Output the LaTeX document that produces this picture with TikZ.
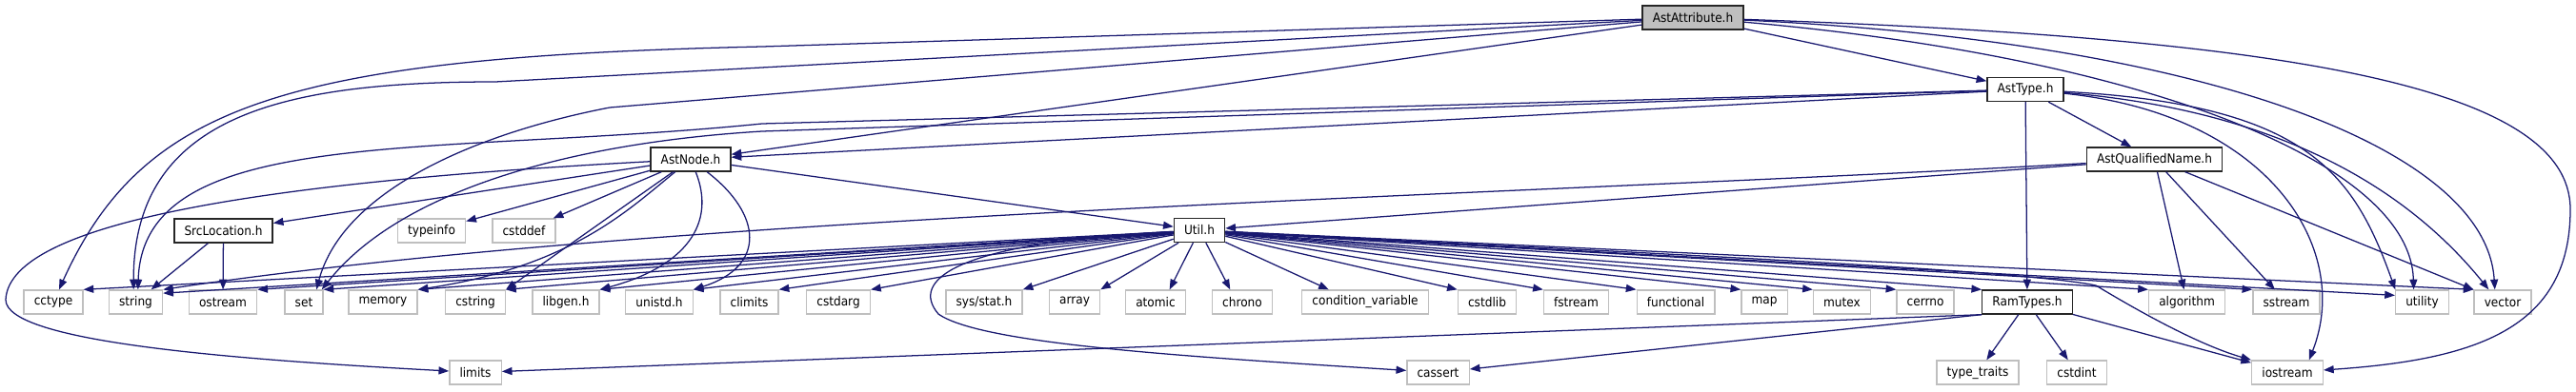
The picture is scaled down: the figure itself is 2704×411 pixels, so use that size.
\documentclass[tikz,border=0pt]{standalone}
\usepackage{fontspec}
\setmainfont{DejaVu Sans}[FakeStretch=0.91]
\usetikzlibrary{arrows.meta}
\definecolor{dxedge}{RGB}{25,25,112}
\definecolor{dxgrey}{RGB}{191,191,191}
\tikzset{
    dxbox/.style={rectangle,minimum height=18.75pt,inner xsep=8pt,inner ysep=0pt,font=\fontsize{10}{12}\selectfont,line width=1pt},
    hdr/.style={dxbox,draw=dxgrey,fill=white},
    loc/.style={dxbox,draw=black!85,fill=white},
    root/.style={dxbox,draw=black!85,fill=dxgrey},
    dep/.style={draw=dxedge,line width=0.95pt,-{Triangle[length=8pt,width=6pt]}}
}
\begin{document}
\begin{tikzpicture}[x=0.75pt,y=-0.75pt]
    \useasboundingbox(0,0)rectangle(2704,411);
    \node[root] (attr) at(1777,18.5){AstAttribute.h};
    \node[loc] (asttype) at(2126,94){AstType.h};
    \node[loc] (astnode) at(725,167.5){AstNode.h};
    \node[loc] (qname) at(2261.5,167.5){AstQualifiedName.h};
    \node[loc] (srcloc) at(234.5,242.5){SrcLocation.h};
    \node[loc] (util) at(1259,242){Util.h};
    \node[hdr] (typeinfo) at(453,242.5){typeinfo};
    \node[hdr] (cstddef) at(550,242.5){cstddef};
    \node[hdr] (cctype) at(56,317.5){cctype};
    \node[hdr] (string) at(142.5,317.5){string};
    \node[hdr] (ostream) at(234,317.5){ostream};
    \node[hdr] (set) at(319,317.5){set};
    \node[hdr] (memory) at(402,317.5){memory};
    \node[hdr] (cstring) at(499,317.5){cstring};
    \node[hdr] (libgen) at(594,317.5){libgen.h};
    \node[hdr] (unistd) at(692,317.5){unistd.h};
    \node[hdr] (climits) at(786.5,317.5){climits};
    \node[hdr] (cstdarg) at(880,317.5){cstdarg};
    \node[hdr] (sysstat) at(1033,317.5){sys/stat.h};
    \node[hdr] (array) at(1128,317.5){array};
    \node[hdr] (atomic) at(1213,317.5){atomic};
    \node[hdr] (chrono) at(1304,317.5){chrono};
    \node[hdr] (condvar) at(1433,317.5){condition\_variable};
    \node[hdr] (cstdlib) at(1561,317.5){cstdlib};
    \node[hdr] (fstream) at(1654.5,317.5){fstream};
    \node[hdr] (functional) at(1759,317.5){functional};
    \node[hdr] (map) at(1852,317.5){map};
    \node[hdr] (mutex) at(1933.5,317.5){mutex};
    \node[hdr] (cerrno) at(2021,317.5){cerrno};
    \node[loc] (ramtypes) at(2128,317.5){RamTypes.h};
    \node[hdr] (algorithm) at(2295.5,317.5){algorithm};
    \node[hdr] (sstream) at(2400,317.5){sstream};
    \node[hdr] (utility) at(2542.5,317.5){utility};
    \node[hdr] (vector) at(2627,317.5){vector};
    \node[hdr] (limits) at(499,391.5){limits};
    \node[hdr] (cassert) at(1509.5,391.5){cassert};
    \node[hdr] (typetraits) at(2076,391.5){type\_traits};
    \node[hdr] (cstdint) at(2180,391.5){cstdint};
    \node[hdr] (iostream) at(2401,391.5){iostream};
    \draw[dep] (attr) -- (astnode.7);
    \draw[dep] (attr) -- (asttype);
    \draw[dep] (attr) -- (800,49) .. controls (300,60) and (150,110) .. (cctype);
    \draw[dep] (attr) -- (520,86) .. controls (300,86) and (140,120) .. (string.100);
    \draw[dep] (attr) -- (640,113) .. controls (500,140) and (360,200) .. (set.45);
    \draw[dep] (attr) .. controls (2250,60) and (2530,170) .. (utility.124);
    \draw[dep] (attr) .. controls (2330,45) and (2610,160) .. (vector.122);
    \draw[dep] (attr) .. controls (2400,40) and (2698,90) .. (2698,220) .. controls (2698,345) and (2600,378) .. (iostream);
    \draw[dep] (asttype) -- (astnode.3);
    \draw[dep] (asttype) -- (800,130) .. controls (450,165) and (150,130) .. (string.80);
    \draw[dep] (asttype) -- (800,138) .. controls (600,150) and (420,200) .. (set.35);
    \draw[dep] (asttype) -- (qname);
    \draw[dep] (asttype) -- (ramtypes);
    \draw[dep] (asttype) .. controls (2380,120) and (2470,260) .. (iostream.30);
    \draw[dep] (asttype) .. controls (2420,110) and (2470,180) .. (utility.155);
    \draw[dep] (asttype) .. controls (2380,115) and (2520,190) .. (vector.138);
    \draw[dep] (qname) -- (util);
    \draw[dep] (qname) .. controls (1600,205) and (700,225) .. (string.north east);
    \draw[dep] (qname) -- (algorithm);
    \draw[dep] (qname) -- (sstream);
    \draw[dep] (qname) -- (vector.north west);
    \draw[dep] (astnode) -- (srcloc);
    \draw[dep] (astnode) -- (typeinfo);
    \draw[dep] (astnode) -- (cstddef);
    \draw[dep] (astnode) -- (util);
    \draw[dep] (astnode) .. controls (300,190) and (10,230) .. (6,315) .. controls (6,360) and (250,378) .. (limits);
    \draw[dep] (astnode) .. controls (660,220) and (600,280) .. (memory.north east);
    \draw[dep] (astnode) -- (cstring.north east);
    \draw[dep] (astnode) .. controls (752,235) and (720,280) .. (libgen.north east);
    \draw[dep] (astnode) .. controls (800,225) and (805,280) .. (unistd.north east);
    \draw[dep] (srcloc) -- (string);
    \draw[dep] (srcloc) -- (ostream);
    \draw[dep] (util) -- (cctype.north east);
    \draw[dep] (util) -- (string.18);
    \draw[dep] (util) -- (ostream.north east);
    \draw[dep] (util) -- (set.north east);
    \draw[dep] (util) -- (memory.north east);
    \draw[dep] (util) -- (cstring.north east);
    \draw[dep] (util) -- (libgen.north east);
    \draw[dep] (util) -- (unistd.north east);
    \draw[dep] (util) -- (climits.north east);
    \draw[dep] (util) -- (cstdarg.north east);
    \draw[dep] (util) .. controls (1000,255) and (955,295) .. (985,330) .. controls (1030,362) and (1250,375) .. (cassert);
    \draw[dep] (util) -- (sysstat.north east);
    \draw[dep] (util) -- (array.north east);
    \draw[dep] (util) -- (atomic.42);
    \draw[dep] (util) -- (chrono.134);
    \draw[dep] (util) -- (condvar.161);
    \draw[dep] (util) -- (cstdlib.north west);
    \draw[dep] (util) -- (fstream.north west);
    \draw[dep] (util) -- (functional.north west);
    \draw[dep] (util) -- (map.north west);
    \draw[dep] (util) -- (mutex.north west);
    \draw[dep] (util) -- (cerrno.north west);
    \draw[dep] (util) -- (ramtypes.north west);
    \draw[dep] (util) -- (algorithm.north west);
    \draw[dep] (util) -- (sstream.north west);
    \draw[dep] (util) .. controls (1700,265) and (2120,283) .. (2200,300) .. controls (2225,315) and (2300,360) .. (iostream.north west);
    \draw[dep] (util) -- (utility.166);
    \draw[dep] (util) -- (vector.north west);
    \draw[dep] (ramtypes.south west) -- (limits);
    \draw[dep] (ramtypes.south west) -- (cassert);
    \draw[dep] (ramtypes) -- (typetraits);
    \draw[dep] (ramtypes) -- (cstdint);
    \draw[dep] (ramtypes) -- (iostream);
\end{tikzpicture}
\end{document}
